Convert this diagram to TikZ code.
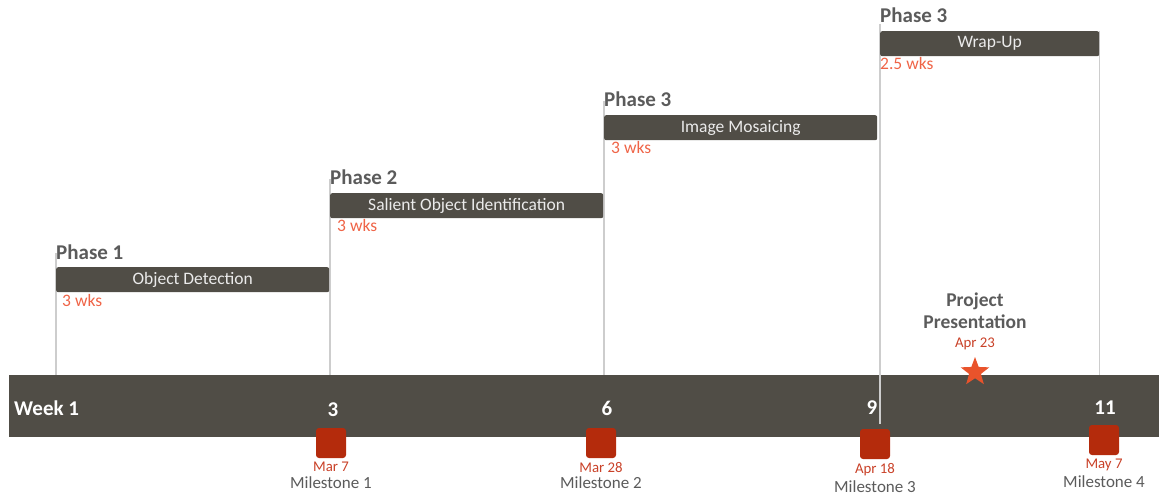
\documentclass[tikz,border=0pt]{standalone}
\usepackage{fontspec}
\setmainfont{Carlito}
\usepackage{tikz}
\usetikzlibrary{positioning,shapes.geometric,backgrounds}

\definecolor{barcol}{HTML}{504D46}
\definecolor{milecol}{HTML}{B42B0C}
\definecolor{durcol}{HTML}{EF6447}
\definecolor{datecol}{HTML}{C94128}
\definecolor{starcol}{HTML}{E9532B}
\definecolor{graytext}{HTML}{5B5B5B}
\definecolor{rulecol}{HTML}{CDCDCD}

\begin{document}
\begin{tikzpicture}[x=1pt,y=-1pt]
		\tikzstyle{phase}=[fill=barcol, rounded corners=2pt, minimum height=25pt, inner sep=0pt, anchor=north west, text=white!92!black, font=\fontsize{17.5}{17.5}\selectfont]
		\tikzstyle{phasename}=[anchor=base west, inner sep=0pt, text=graytext, font=\bfseries\fontsize{21}{21}\selectfont]
		\tikzstyle{dur}=[anchor=base west, inner sep=0pt, text=durcol, font=\fontsize{17.5}{17.5}\selectfont]
		\tikzstyle{week}=[inner sep=0pt, text=white, font=\bfseries\fontsize{21}{21}\selectfont]
		\tikzstyle{mile}=[rectangle, fill=milecol, rounded corners=3pt, minimum size=30pt, inner sep=0pt]
		\tikzstyle{date}=[inner sep=0pt, text=datecol, font=\fontsize{14.8}{14.8}\selectfont]
		\tikzstyle{mname}=[inner sep=0pt, text=graytext, font=\fontsize{17}{17}\selectfont]
		\tikzstyle{rule}=[draw=rulecol, line width=1.6pt]
		
		\useasboundingbox (0,0) rectangle (1159,497);
		
		% Phases
		\foreach \i/\x/\y/\w/\task/\name/\dx/\len in {1/56/267/273/Object Detection/Phase 1/6/3 wks, 2/330/193/273/Salient Object Identification/Phase 2/7/3 wks, 3/604/115/273/Image Mosaicing/Phase 3/7/3 wks, 4/880/31/219/Wrap-Up/Phase 3/0/2.5 wks}
		{
		\node[phase, minimum width=\w pt] (ph\i) at (\x,\y) {\task};
		\node[phasename] (pn\i) at (\x,\y-8) {\name};
		\node[dur] (pd\i) at (\x+\dx,\y+39) {\len};
		}
		
		% Timeline
		\node[fill=barcol, minimum width=1150pt, minimum height=62pt, inner sep=0pt, anchor=north west] (line) at (9,375) {};
		\node[week, anchor=west] (w1) at (14,408) {Week 1};
		\foreach \i/\x/\y/\wk in {3/333/410/3, 6/607/408/6, 9/872/408/9, 11/1105/408/11}
		\node[week] (w\i) at (\x,\y) {\wk};
		
		% Milestones
		\foreach \i/\x/\y/\day in {1/331/443/Mar 7, 2/601/443/Mar 28, 3/875/444/Apr 18, 4/1104/440/May 7}
		{
		\node[mile] (m\i) at (\x,\y) {};
		\node[date, below=4pt of m\i] (md\i) {\day};
		\node[mname, below=4pt of md\i] (mn\i) {Milestone \i};
		}
		
		% Rules
		\begin{scope}[on background layer]
		\foreach \i in {1,...,3}
		\draw[rule] ([yshift=14pt]ph\i.north west) -- (ph\i.north west |- line.north);
		\draw[rule] ([yshift=7pt]ph4.north west) -- (ph4.north west |- line.north);
		\draw[rule] (ph4.north east) -- (ph4.north east |- line.north);
		\end{scope}
		\draw[rule] (ph4.south west |- line.north) -- ([yshift=5pt]ph4.south west |- m3.north);
		
		% Presentation
		\node[star, star points=5, star point ratio=2.4, fill=starcol, inner sep=0pt, minimum size=30pt] (pres) at (975,372) {};
		\node[date, above=6pt of pres] (presdate) {Apr 23};
		\node[mname, font=\bfseries\fontsize{19.5}{22}\selectfont, align=center, above=9pt of presdate] (prestitle) {Project\\Presentation};
		
		\end{tikzpicture}
\end{document}
